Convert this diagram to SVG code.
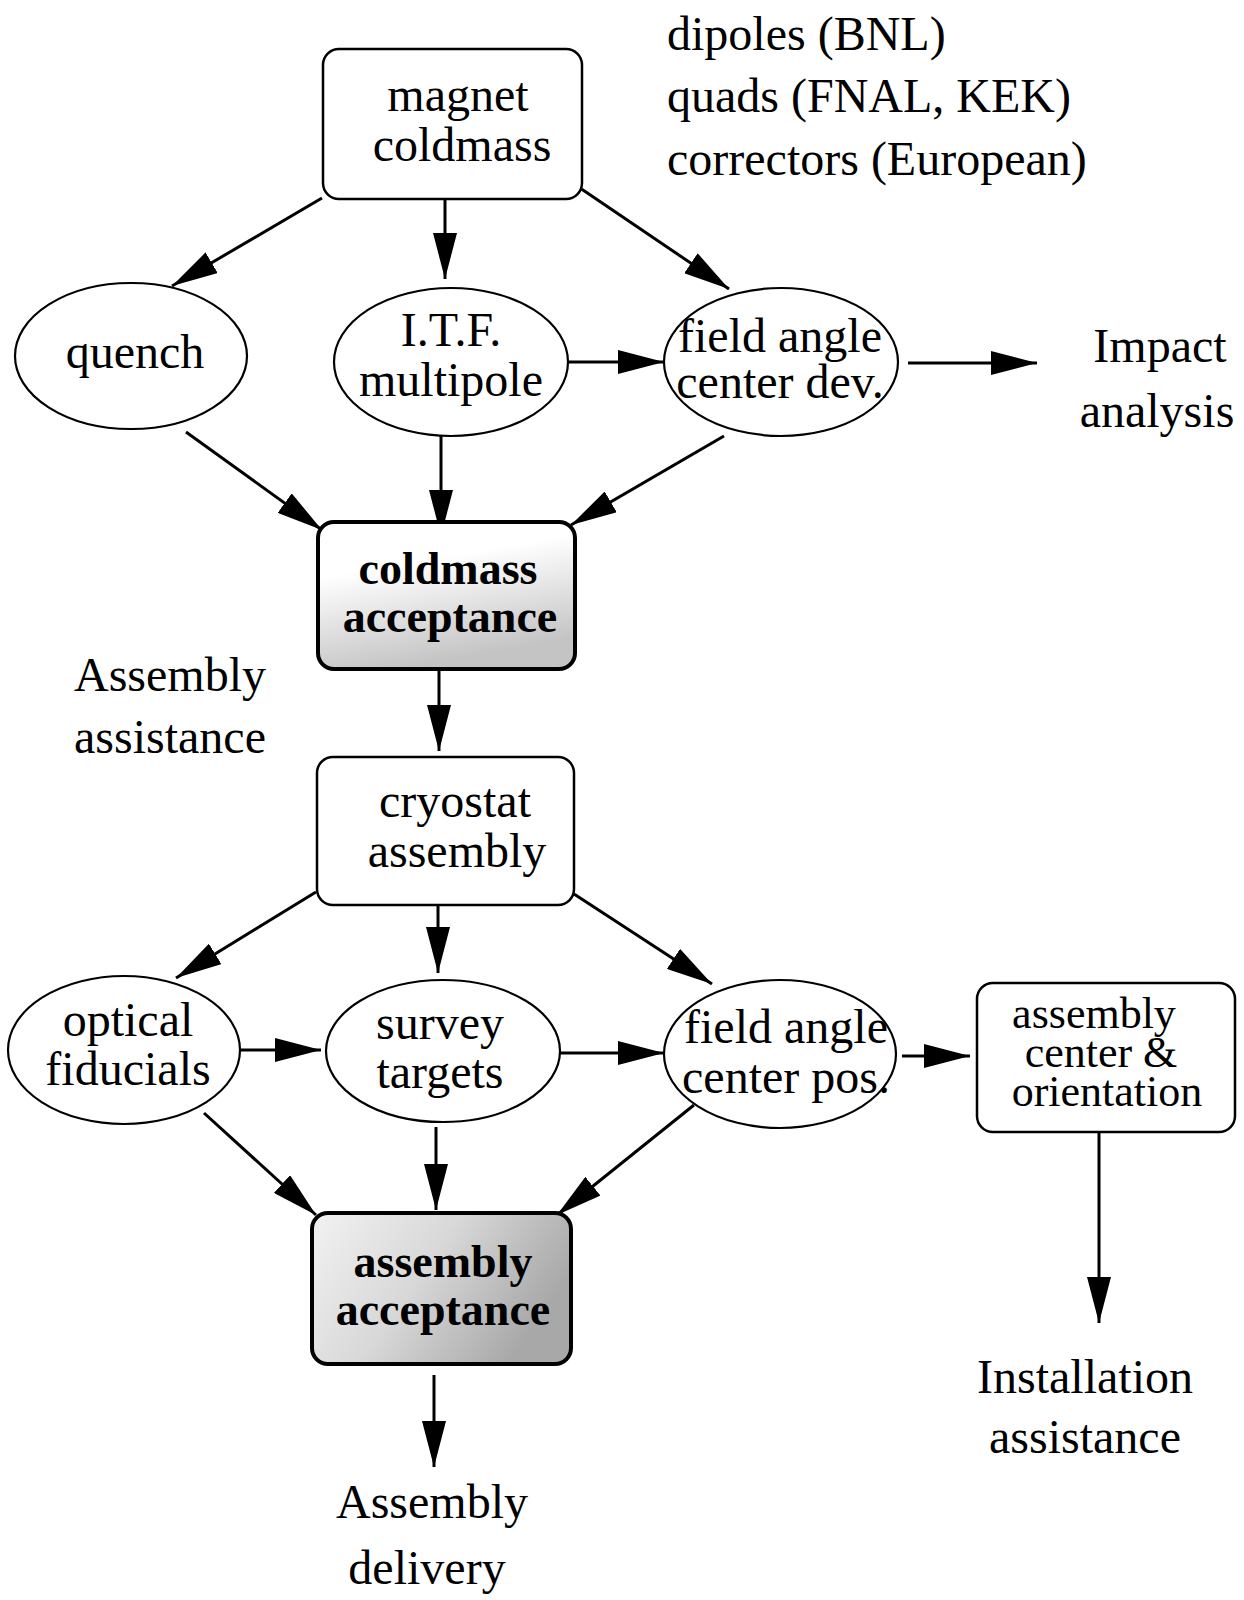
<svg xmlns="http://www.w3.org/2000/svg" width="1244" height="1600" viewBox="0 0 1244 1600">
<style>
text{font-family:"Liberation Serif","Times New Roman",serif;font-size:48px;fill:#000;text-anchor:middle}
.l{text-anchor:start}
.b{font-weight:bold;font-size:46px}
.s{font-size:44px}
.box{fill:#fff;stroke:#000;stroke-width:2.5}
.acc{stroke:#000;stroke-width:4}
.ell{fill:#fff;stroke:#000;stroke-width:2.2}
.con line{stroke:#000;stroke-width:3;marker-end:url(#ah)}
</style>
<defs>
<marker id="ah" markerUnits="userSpaceOnUse" markerWidth="46" markerHeight="24" refX="46" refY="12" orient="auto">
<path d="M0,0 L46,12 L0,24 z" fill="#000"/>
</marker>
<linearGradient id="g1" x1="0" y1="0" x2="0.3" y2="1">
<stop offset="0.35" stop-color="#fff"/>
<stop offset="1" stop-color="#c4c4c4"/>
</linearGradient>
<linearGradient id="g2" x1="0" y1="0" x2="1" y2="0.4">
<stop offset="0" stop-color="#f2f2f2"/>
<stop offset="0.5" stop-color="#d8d8d8"/>
<stop offset="1" stop-color="#a8a8a8"/>
</linearGradient>
</defs>
<rect width="1244" height="1600" fill="#fff"/>

<g id="connectors" class="con">
<line x1="322" y1="198" x2="172" y2="286"/>
<line x1="445" y1="200" x2="445" y2="279"/>
<line x1="580" y1="188" x2="729" y2="289"/>
<line x1="566" y1="362" x2="664" y2="362"/>
<line x1="908" y1="363" x2="1037" y2="363"/>
<line x1="186" y1="432" x2="322" y2="530"/>
<line x1="441" y1="435" x2="441" y2="536"/>
<line x1="724" y1="436" x2="571" y2="525"/>
<line x1="439" y1="671" x2="439" y2="751"/>
<line x1="316" y1="892" x2="176" y2="978"/>
<line x1="438" y1="905" x2="438" y2="973"/>
<line x1="574" y1="894" x2="712" y2="984"/>
<line x1="240" y1="1050" x2="321" y2="1050"/>
<line x1="560" y1="1053" x2="664" y2="1053"/>
<line x1="902" y1="1056" x2="970" y2="1056"/>
<line x1="204" y1="1113" x2="316" y2="1215"/>
<line x1="436" y1="1127" x2="436" y2="1210"/>
<line x1="694" y1="1105" x2="557" y2="1215"/>
<line x1="434" y1="1375" x2="434" y2="1467"/>
<line x1="1099" y1="1132" x2="1099" y2="1323"/>
</g>

<g id="magnet">
<rect class="box" x="323" y="49" width="259" height="150" rx="16"/>
<text x="458" y="111">magnet</text>
<text x="462" y="161">coldmass</text>
</g>
<g id="types">
<text class="l" x="667" y="50">dipoles (BNL)</text>
<text class="l" x="667" y="112">quads (FNAL, KEK)</text>
<text class="l" x="667" y="175">correctors (European)</text>
</g>
<g id="quench">
<ellipse class="ell" cx="131" cy="356" rx="116" ry="73"/>
<text x="135" y="368">quench</text>
</g>
<g id="itf">
<ellipse class="ell" cx="451" cy="362" rx="117" ry="74"/>
<text x="451" y="346">I.T.F.</text>
<text x="451" y="396">multipole</text>
</g>
<g id="fieldDev">
<ellipse class="ell" cx="781" cy="362" rx="117" ry="74"/>
<text x="780" y="352">field angle</text>
<text x="780" y="398">center dev.</text>
</g>
<g id="impact">
<text x="1160" y="362">Impact</text>
<text x="1157" y="427">analysis</text>
</g>
<g id="coldmassAcceptance">
<rect class="acc" fill="url(#g1)" x="318" y="522" width="257" height="147" rx="16"/>
<text class="b" x="448" y="584">coldmass</text>
<text class="b" x="450" y="632">acceptance</text>
</g>
<g id="assemblyAssistance">
<text x="170" y="691">Assembly</text>
<text x="170" y="753">assistance</text>
</g>
<g id="cryostat">
<rect class="box" x="317" y="757" width="257" height="148" rx="16"/>
<text x="455" y="817">cryostat</text>
<text x="457" y="867">assembly</text>
</g>
<g id="optical">
<ellipse class="ell" cx="124" cy="1050" rx="116" ry="74"/>
<text x="128" y="1036">optical</text>
<text x="128" y="1085">fiducials</text>
</g>
<g id="survey">
<ellipse class="ell" cx="443" cy="1051" rx="117" ry="71"/>
<text x="440" y="1039">survey</text>
<text x="440" y="1088">targets</text>
</g>
<g id="fieldPos">
<ellipse class="ell" cx="780" cy="1054" rx="116" ry="74"/>
<text x="786" y="1043">field angle</text>
<text x="786" y="1093">center pos.</text>
</g>
<g id="assemblyCenter">
<rect class="box" x="977" y="983" width="258" height="149" rx="16"/>
<text class="s" x="1094" y="1028">assembly</text>
<text class="s" x="1101" y="1067">center &amp;</text>
<text class="s" x="1107" y="1106">orientation</text>
</g>
<g id="installation">
<text x="1085" y="1393">Installation</text>
<text x="1085" y="1453">assistance</text>
</g>
<g id="assemblyAcceptance">
<rect class="acc" fill="url(#g2)" x="312" y="1213" width="259" height="151" rx="16"/>
<text class="b" x="443" y="1277">assembly</text>
<text class="b" x="443" y="1325">acceptance</text>
</g>
<g id="delivery">
<text x="432" y="1518">Assembly</text>
<text x="427" y="1584">delivery</text>
</g>
</svg>
